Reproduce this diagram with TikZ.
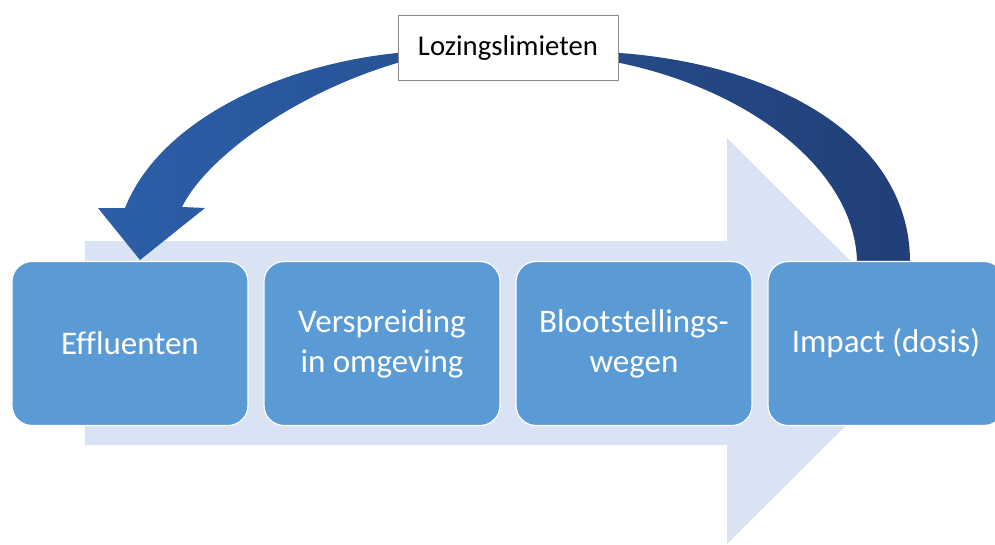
\documentclass[tikz,border=0pt]{standalone}
\usepackage{fontspec}
\setmainfont[Ligatures=NoCommon]{Carlito}
\definecolor{boxblue}{HTML}{5B9BD5}
\definecolor{lightarrow}{HTML}{DAE3F3}
\definecolor{darkleft}{HTML}{2C5FA8}
\definecolor{darkright}{HTML}{213F78}
\definecolor{labelline}{HTML}{8C8C8C}
\tikzset{
  stagebox/.style={fill=boxblue, draw=white, line width=1.2pt, rounded corners=20pt,
    minimum width=236pt, minimum height=164pt, text=white, align=center,
    font=\fontsize{33}{40}\selectfont, inner sep=0pt},
  labelbox/.style={fill=white, draw=labelline, line width=0.9pt,
    minimum width=220pt, minimum height=65pt, inner sep=0pt,
    font=\fontsize{28.7}{34}\selectfont}
}
\begin{document}
\begin{tikzpicture}[x=1pt,y=-1pt]
\useasboundingbox (0,0) rectangle (995,544);
\clip (0,0) rectangle (995,544);
% big light arrow in background
\fill[lightarrow] (85,241) -- (727,241) -- (727,138) -- (931,341) -- (727,544) -- (727,445) -- (85,445) -- cycle;
% curved dark feedback arrow
\shade[left color=darkleft, right color=darkright]
  (910,262) .. controls (910,140) and (780,65) .. (620,53)
  .. controls (560,46) and (460,46) .. (397,53)
  .. controls (280,65) and (160,120) .. (125,208)
  -- (98,208) -- (140,260) -- (205,208) -- (182,207)
  .. controls (205,160) and (290,95) .. (397,63)
  .. controls (460,56) and (560,56) .. (620,63)
  .. controls (750,90) and (855,170) .. (857,262) -- cycle;
% stage boxes
\node[stagebox] (b1) at (130,343.5) {Effluenten};
\node[stagebox] (b2) at (382,343.5) {Verspreiding\\in omgeving};
\node[stagebox] (b3) at (634,343.5) {Blootstellings-\\wegen};
\node[stagebox] (b4) at (886,343.5) {Impact (dosis)};
% label
\node[labelbox] (lab) at (508,47.5) {Lozingslimieten};
\end{tikzpicture}
\end{document}
